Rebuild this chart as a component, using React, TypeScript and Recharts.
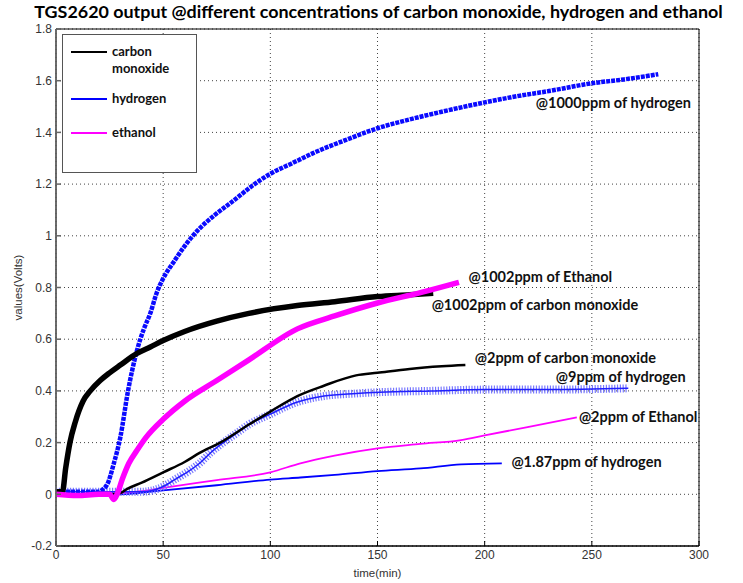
import {
  LineChart,
  Line,
  XAxis,
  YAxis,
  CartesianGrid,
  ReferenceArea,
  ReferenceDot,
} from 'recharts';

// [time(min), volts]
const h2_1000 = [
  [0, 0.01], [10, 0.01], [20, 0.01], [22, 0.02], [24, 0.04], [27, 0.12], [30, 0.22],
  [33.6, 0.4], [37.8, 0.557], [41, 0.64], [44, 0.7], [47, 0.78], [50, 0.835], [55, 0.9],
  [60, 0.96], [66, 1.02], [74, 1.08], [83, 1.137], [91, 1.19], [100, 1.24], [110, 1.28],
  [120, 1.32], [135, 1.37], [150, 1.416], [165, 1.45], [180, 1.48], [200, 1.516],
  [215, 1.54], [230, 1.56], [250, 1.59], [265, 1.605], [281, 1.625],
];
const co_1002 = [
  [0, 0.01], [3, 0.01], [4.5, 0.1], [6.5, 0.2], [9, 0.28], [12.6, 0.36], [16, 0.4],
  [20.6, 0.44], [25, 0.47], [30, 0.5], [37.8, 0.545], [44, 0.57], [50, 0.595], [60, 0.63],
  [75, 0.67], [90, 0.7], [112.6, 0.73], [130, 0.745], [150, 0.765], [165, 0.772], [176, 0.778],
];
const eth_1002 = [
  [0, 0.0], [10, -0.005], [20, 0.0], [25, 0.0], [27, -0.02], [28.5, 0.0], [31, 0.06],
  [34, 0.12], [37.8, 0.17], [42, 0.22], [50, 0.29], [60, 0.36], [75, 0.44], [90, 0.52],
  [112.6, 0.64], [130, 0.69], [150, 0.74], [170, 0.78], [188, 0.82],
];
const co_2 = [
  [0, 0.0], [25, 0.0], [30, 0.005], [33, 0.02], [40, 0.045], [50, 0.085], [60, 0.125],
  [67, 0.16], [76.6, 0.2], [90, 0.27], [100, 0.32], [112.6, 0.38], [125, 0.42], [140, 0.46],
  [150, 0.47], [165, 0.485], [180, 0.495], [191, 0.5],
];
const h2_9 = [
  [0, 0.01], [20, 0.01], [40, 0.01], [45, 0.015], [50, 0.03], [56, 0.06], [62, 0.09],
  [67, 0.12], [72, 0.16], [78, 0.2], [84, 0.235], [90, 0.27], [100, 0.31], [112, 0.355],
  [125, 0.38], [140, 0.39], [151, 0.395], [175, 0.4], [200, 0.405], [230, 0.405], [267, 0.41],
];
const eth_2 = [
  [0, 0.0], [20, 0.0], [30, 0.005], [40, 0.012], [50, 0.025], [75, 0.055], [100, 0.085],
  [114, 0.12], [130, 0.15], [150, 0.178], [170, 0.195], [189, 0.21], [200, 0.228],
  [220, 0.26], [243, 0.298],
];
const h2_187 = [
  [0, 0.0], [30, 0.0], [50, 0.015], [75, 0.035], [100, 0.057], [114, 0.065], [130, 0.075],
  [150, 0.09], [170, 0.1], [189, 0.116], [208, 0.12],
];

const xTicks = [0, 50, 100, 150, 200, 250, 300];
const yTicks = [-0.2, 0, 0.2, 0.4, 0.6, 0.8, 1, 1.2, 1.4, 1.6, 1.8];

// annotation text, anchored at its left edge (data coords)
const notes = [
  { text: '@1000ppm of hydrogen', x: 223.4, y: 1.513 },
  { text: '@1002ppm of Ethanol', x: 192, y: 0.84 },
  { text: '@1002ppm of carbon monoxide', x: 174.8, y: 0.731 },
  { text: '@2ppm of carbon monoxide', x: 194.9, y: 0.526 },
  { text: '@9ppm of hydrogen', x: 232.7, y: 0.453 },
  { text: '@2ppm of Ethanol', x: 243.5, y: 0.298 },
  { text: '@1.87ppm of hydrogen', x: 212, y: 0.124 },
];

const legendItems = [
  { name: ['carbon', 'monoxide'], color: '#000000' },
  { name: ['hydrogen'], color: '#0000ff' },
  { name: ['ethanol'], color: '#ff00ff' },
];

const toPts = (arr: number[][]) => arr.map(([t, v]) => ({ t, v }));

const boldFont = 'Lato, "Open Sans", sans-serif';
const tickStyle = { fill: '#333', fontSize: 12 };

function LegendBox() {
  return (
    <div
      style={{
        position: 'absolute',
        left: 62,
        top: 34,
        width: 133,
        height: 137,
        border: '1px solid #555',
        background: '#fff',
        fontFamily: boldFont,
        fontWeight: 700,
        fontSize: 13,
        color: '#111',
      }}
    >
      {legendItems.map((it, i) => (
        <div
          key={i}
          style={{ position: 'absolute', left: 8, top: [8, 55, 89][i], display: 'flex' }}
        >
          <div style={{ width: 36, height: 2, background: it.color, marginTop: 8, marginRight: 5 }} />
          <div style={{ lineHeight: '17px' }}>
            {it.name.map((n) => (
              <div key={n}>{n}</div>
            ))}
          </div>
        </div>
      ))}
    </div>
  );
}

export default function App() {
  return (
    <div style={{ position: 'absolute', left: 0, top: 0, width: 743, height: 583, background: '#fff' }}>
      <div
        style={{
          position: 'absolute',
          left: 0,
          top: 1,
          width: 757,
          textAlign: 'center',
          fontFamily: boldFont,
          fontWeight: 700,
          fontSize: 17.9,
          lineHeight: '20px',
          color: '#000',
        }}
      >
        TGS2620 output @different concentrations of carbon monoxide, hydrogen and ethanol
      </div>
      <LineChart
        width={743}
        height={583}
        margin={{ top: 29, right: 44, bottom: 4, left: 0 }}
        style={{ fontFamily: '"Liberation Sans", Arial, sans-serif' }}
      >
        <CartesianGrid stroke="#444" strokeDasharray="1 3" horizontalValues={yTicks} verticalValues={xTicks} />
        <XAxis
          type="number"
          dataKey="t"
          domain={[0, 300]}
          ticks={xTicks}
          height={33}
          tickSize={-5}
          tickMargin={9}
          stroke="#000"
          tick={tickStyle}
          label={{ value: 'time(min)', position: 'insideBottom', offset: 2, fill: '#333', fontSize: 11.5 }}
        />
        <XAxis
          xAxisId="top"
          orientation="top"
          type="number"
          domain={[0, 300]}
          ticks={xTicks}
          height={0}
          tickSize={-5}
          stroke="#000"
          tick={false}
        />
        <YAxis
          type="number"
          domain={[-0.2, 1.8]}
          ticks={yTicks}
          width={56}
          tickSize={-5}
          tickMargin={9}
          stroke="#666"
          strokeWidth={1.5}
          tick={tickStyle}
          allowDataOverflow
          label={{
            value: 'values(Volts)',
            angle: -90,
            position: 'insideLeft',
            offset: 18,
            fill: '#333',
            fontSize: 11.5,
            style: { textAnchor: 'middle' },
          }}
        />
        <YAxis
          yAxisId="right"
          orientation="right"
          type="number"
          domain={[-0.2, 1.8]}
          ticks={yTicks}
          width={0}
          tickSize={-5}
          stroke="#000"
          tick={false}
        />
        <ReferenceArea x1={0} x2={300} y1={-0.2} y2={1.8} fill="none" stroke="#000" strokeWidth={1} ifOverflow="visible" />

        <Line data={toPts(h2_187)} dataKey="v" type="monotone" stroke="#0000ff" strokeWidth={1.8} dot={false} isAnimationActive={false} />
        <Line data={toPts(eth_2)} dataKey="v" type="monotone" stroke="#ff00ff" strokeWidth={1.8} dot={false} isAnimationActive={false} />
        <Line data={toPts(h2_9)} dataKey="v" type="monotone" stroke="#7878ff" strokeWidth={8} strokeDasharray="1.2 1.6" dot={false} isAnimationActive={false} />
        <Line data={toPts(h2_9)} dataKey="v" type="monotone" stroke="#2020ff" strokeWidth={1.5} dot={false} isAnimationActive={false} />
        <Line data={toPts(co_2)} dataKey="v" type="monotone" stroke="#000" strokeWidth={2.5} dot={false} isAnimationActive={false} />
        <Line data={toPts(h2_1000)} dataKey="v" type="monotone" stroke="#0a0aff" strokeWidth={4.5} strokeDasharray="4 1" dot={false} isAnimationActive={false} />
        <Line data={toPts(co_1002)} dataKey="v" type="monotone" stroke="#000" strokeWidth={5.5} dot={false} isAnimationActive={false} />
        <Line data={toPts(eth_1002)} dataKey="v" type="monotone" stroke="#ff00ff" strokeWidth={5.5} dot={false} isAnimationActive={false} />

        {notes.map((n) => (
          <ReferenceDot
            key={n.text}
            x={n.x}
            y={n.y}
            r={1}
            fill="none"
            stroke="none"
            ifOverflow="visible"
            label={{
              value: n.text,
              position: 'right',
              offset: 0,
              fill: '#111',
              fontSize: 14.5,
              fontWeight: 700,
              fontFamily: boldFont,
            }}
          />
        ))}
      </LineChart>
      <LegendBox />
    </div>
  );
}
